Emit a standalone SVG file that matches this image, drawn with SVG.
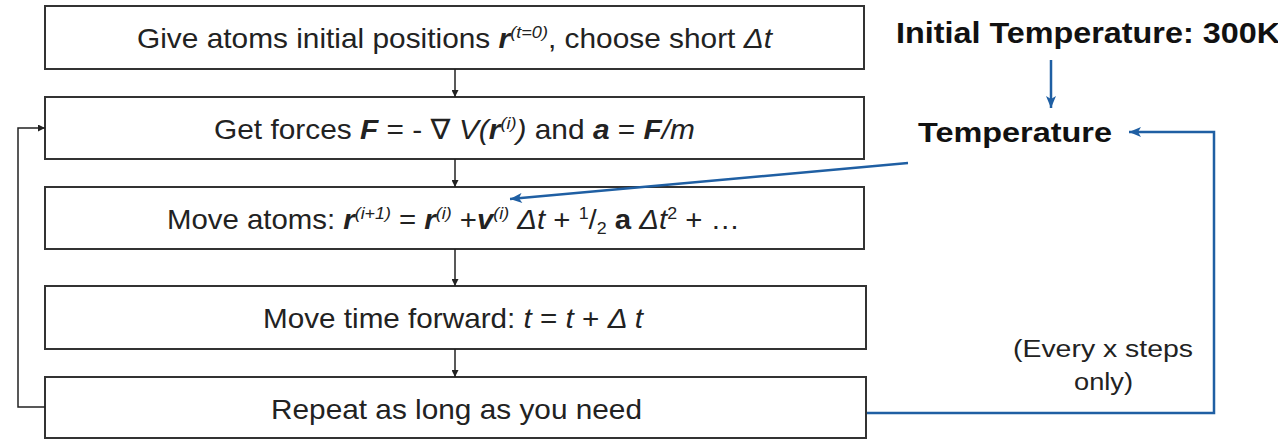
<svg xmlns="http://www.w3.org/2000/svg" width="1278" height="440" viewBox="0 0 1278 440">
<style>
text{font-family:"Liberation Sans","DejaVu Sans",Arial,sans-serif;fill:#222;}
.t{font-size:28px;}
.bi{font-weight:bold;font-style:italic;}
.b{font-weight:bold;}
.i{font-style:italic;}
.sup{font-size:17px;font-style:italic;}
.sm{font-size:17px;}
.box{fill:#fff;stroke:#333;stroke-width:2;}
.con{fill:none;stroke:#222;stroke-width:1.5;}
.blue{fill:none;stroke:#1f5fa3;stroke-width:2.5;}
.hd{font-weight:bold;fill:#111;}
</style>
<defs>
<marker id="ak" viewBox="0 0 10 10" refX="10" refY="5" markerWidth="7" markerHeight="7" markerUnits="userSpaceOnUse" orient="auto">
<path d="M0,0 L10,5 L0,10 z" fill="#222"/>
</marker>
<marker id="ab" viewBox="0 0 12 10" refX="12" refY="5" markerWidth="13" markerHeight="10" markerUnits="userSpaceOnUse" orient="auto">
<path d="M0,0 L12,5 L0,10 L3,5 z" fill="#1f5fa3"/>
</marker>
</defs>
<rect width="1278" height="440" fill="#fff"/>
<g id="n1">
<rect class="box" x="45" y="6" width="819" height="63"/>
<text class="t" x="137" y="48" textLength="635" lengthAdjust="spacingAndGlyphs">Give atoms initial positions <tspan class="bi">r</tspan><tspan class="sup" dy="-10">(t=0)</tspan><tspan dy="10">, choose short </tspan><tspan class="i">Δt</tspan></text>
</g>
<g id="n2">
<rect class="box" x="45" y="97" width="819" height="62"/>
<text class="t" x="214" y="138.5" textLength="481" lengthAdjust="spacingAndGlyphs">Get forces <tspan class="bi">F</tspan> = - ∇ <tspan class="i">V(</tspan><tspan class="bi">r</tspan><tspan class="sup" dy="-10">(i)</tspan><tspan class="i" dy="10">)</tspan> and <tspan class="bi">a</tspan> = <tspan class="bi">F</tspan><tspan class="i">/m</tspan></text>
</g>
<g id="n3">
<rect class="box" x="45" y="187" width="819" height="62"/>
<text class="t" x="167" y="228.5" textLength="573" lengthAdjust="spacingAndGlyphs">Move atoms: <tspan class="bi">r</tspan><tspan class="sup" dy="-10">(i+1)</tspan><tspan dy="10"> = </tspan><tspan class="bi">r</tspan><tspan class="sup" dy="-10">(i)</tspan><tspan dy="10"> +</tspan><tspan class="bi">v</tspan><tspan class="sup" dy="-10">(i)</tspan><tspan class="i" dy="10"> Δt</tspan> + <tspan class="sm" dy="-10">1</tspan><tspan dy="10">/</tspan><tspan class="sm" dy="5">2</tspan><tspan dy="-5"> </tspan><tspan class="b">a</tspan> <tspan class="i">Δt</tspan><tspan class="sm" dy="-10">2</tspan><tspan dy="10"> + …</tspan></text>
</g>
<g id="n4">
<rect class="box" x="45" y="286" width="821" height="63"/>
<text class="t" x="263" y="328" textLength="380" lengthAdjust="spacingAndGlyphs">Move time forward: <tspan class="i">t</tspan> = <tspan class="i">t</tspan> + <tspan class="i">Δ t</tspan></text>
</g>
<g id="n5">
<rect class="box" x="45" y="377" width="821" height="61"/>
<text class="t" x="271" y="419" textLength="371" lengthAdjust="spacingAndGlyphs">Repeat as long as you need</text>
</g>
<g id="initTemp">
<text class="hd" x="896" y="43" font-size="30" textLength="384" lengthAdjust="spacingAndGlyphs">Initial Temperature: 300K</text>
</g>
<g id="temp">
<text class="hd" x="918" y="142" font-size="28" textLength="194" lengthAdjust="spacingAndGlyphs">Temperature</text>
</g>
<g id="note">
<text x="1013" y="357" font-size="23" textLength="180" lengthAdjust="spacingAndGlyphs">(Every x steps</text>
<text x="1074" y="390" font-size="23" textLength="59" lengthAdjust="spacingAndGlyphs">only)</text>
</g>
<g id="connectors">
<line class="con" x1="455" y1="69" x2="455" y2="97" marker-end="url(#ak)"/>
<line class="con" x1="455" y1="159" x2="455" y2="187" marker-end="url(#ak)"/>
<line class="con" x1="455" y1="249" x2="455" y2="286" marker-end="url(#ak)"/>
<line class="con" x1="455" y1="349" x2="455" y2="377" marker-end="url(#ak)"/>
<polyline class="con" points="45,407 18,407 18,128 45,128" marker-end="url(#ak)"/>
<line class="blue" x1="1051" y1="60" x2="1051" y2="108" marker-end="url(#ab)"/>
<line class="blue" x1="908" y1="163" x2="510" y2="199" marker-end="url(#ab)"/>
<polyline class="blue" points="867,413 1214,413 1214,132 1129,132" marker-end="url(#ab)"/>
</g>
</svg>
